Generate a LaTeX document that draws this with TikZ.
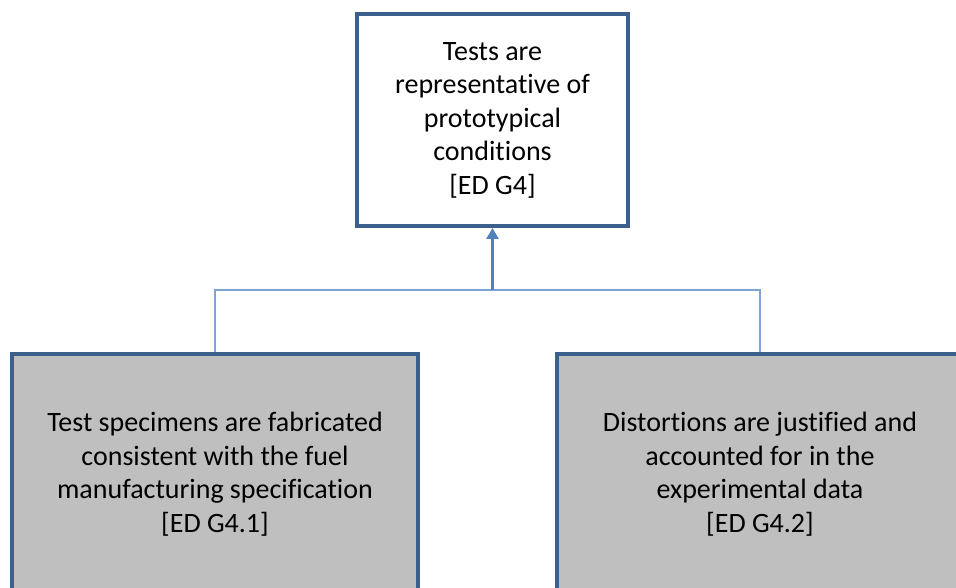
\documentclass[tikz,border=0pt]{standalone}
\usepackage{fontspec}
\setmainfont[Ligatures={NoCommon}]{Carlito}
\usetikzlibrary{arrows.meta}

\definecolor{boxline}{HTML}{3C5F8C}
\definecolor{boxfill}{HTML}{BFBFBF}
\definecolor{linkline}{HTML}{4F81BD}
\definecolor{barline}{HTML}{7FA3D3}

\begin{document}
\begin{tikzpicture}[x=1pt,y=-1pt,
	goalbox/.style={shape=rectangle,draw=boxline,line width=4pt,fill=white,
		minimum width=271pt,minimum height=212pt,align=center,
		font=\fontsize{28}{33.5}\selectfont},
	subbox/.style={shape=rectangle,draw=boxline,line width=3.5pt,fill=boxfill,
		minimum width=406pt,minimum height=240pt,align=center,
		font=\fontsize{28}{33.5}\selectfont}]
	\useasboundingbox (0,0) rectangle (956,588);

	\node[goalbox] (goal) at (492.5,120) {Tests are\\representative of\\prototypical\\conditions\\{[ED G4]}};
	\node[subbox] (sub1) at (215,474) {Test specimens are fabricated\\consistent with the fuel\\manufacturing specification\\{[ED G4.1]}};
	\node[subbox] (sub2) at (760,474) {Distortions are justified and\\accounted for in the\\experimental data\\{[ED G4.2]}};

	\coordinate (jn) at (492.5,290);

	\draw[barline,line width=1.5pt] (sub1.north) |- (jn) -| (sub2.north);
	\draw[linkline,line width=2.5pt,-{Triangle[width=12pt,length=11pt]}] (jn) -- (goal.south);

\end{tikzpicture}
\end{document}
